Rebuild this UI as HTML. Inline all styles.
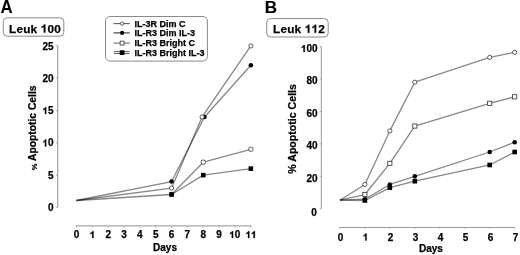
<!DOCTYPE html>
<html><head><meta charset="utf-8"><title>Apoptosis chart</title><style>
html,body{margin:0;padding:0;background:#fff;width:520px;height:255px;overflow:hidden}svg{display:block;filter:grayscale(1)}text{font-family:"Liberation Sans",sans-serif;font-weight:bold;fill:#000;stroke:#000;stroke-width:0.25px}
</style></head><body>
<svg width="520" height="255" viewBox="0 0 520 255">
<path d="M57.7 45.5V207.5" stroke="#a8a8a8" stroke-width="1.3" fill="none"/>
<path d="M56 45.9H57.5" stroke="#999" stroke-width="0.8"/>
<text x="53.5" y="49.5" text-anchor="end" style="font-size:10px">25</text>
<path d="M56 78.2H57.5" stroke="#999" stroke-width="0.8"/>
<text x="53.5" y="82.4" text-anchor="end" style="font-size:10px">20</text>
<path d="M56 110.5H57.5" stroke="#999" stroke-width="0.8"/>
<text id="t1" x="53.5" y="114.1" text-anchor="end" style="font-size:10px">&#x2007;5</text>
<path d="M56 142.8H57.5" stroke="#999" stroke-width="0.8"/>
<text id="t2" x="53.5" y="146.4" text-anchor="end" style="font-size:10px">&#x2007;0</text>
<path d="M56 175.1H57.5" stroke="#999" stroke-width="0.8"/>
<text x="53.5" y="178.7" text-anchor="end" style="font-size:10px">5</text>
<path d="M56 207.4H57.5" stroke="#999" stroke-width="0.8"/>
<text x="53.5" y="211" text-anchor="end" style="font-size:10px">0</text>
<path d="M75.9 225.9H251.6" stroke="#a8a8a8" stroke-width="1.4" fill="none"/>
<path d="M76.4 226.2V227.6" stroke="#999" stroke-width="0.8"/>
<text x="76.6" y="238.1" text-anchor="middle" style="font-size:10px">0</text>
<path d="M92.26 226.2V227.6" stroke="#999" stroke-width="0.8"/>
<text id="t3" x="92.42" y="238.1" text-anchor="middle" style="font-size:10px">&#x2007;</text>
<path d="M108.12 226.2V227.6" stroke="#999" stroke-width="0.8"/>
<text x="108.24" y="238.1" text-anchor="middle" style="font-size:10px">2</text>
<path d="M123.98 226.2V227.6" stroke="#999" stroke-width="0.8"/>
<text x="124.06" y="238.1" text-anchor="middle" style="font-size:10px">3</text>
<path d="M139.84 226.2V227.6" stroke="#999" stroke-width="0.8"/>
<text x="139.88" y="238.1" text-anchor="middle" style="font-size:10px">4</text>
<path d="M155.7 226.2V227.6" stroke="#999" stroke-width="0.8"/>
<text x="155.7" y="238.1" text-anchor="middle" style="font-size:10px">5</text>
<path d="M171.56 226.2V227.6" stroke="#999" stroke-width="0.8"/>
<text x="171.52" y="238.1" text-anchor="middle" style="font-size:10px">6</text>
<path d="M187.42 226.2V227.6" stroke="#999" stroke-width="0.8"/>
<text x="187.34" y="238.1" text-anchor="middle" style="font-size:10px">7</text>
<path d="M203.28 226.2V227.6" stroke="#999" stroke-width="0.8"/>
<text x="203.16" y="238.1" text-anchor="middle" style="font-size:10px">8</text>
<path d="M219.14 226.2V227.6" stroke="#999" stroke-width="0.8"/>
<text x="218.98" y="238.1" text-anchor="middle" style="font-size:10px">9</text>
<path d="M235 226.2V227.6" stroke="#999" stroke-width="0.8"/>
<text id="t4" x="234.8" y="238.1" text-anchor="middle" style="font-size:10px">&#x2007;0</text>
<path d="M250.86 226.2V227.6" stroke="#999" stroke-width="0.8"/>
<text id="t5" x="251.02" y="238.1" text-anchor="middle" style="font-size:10px">&#x2007;&#x2007;</text>
<text x="165" y="251.4" text-anchor="middle" style="font-size:10px">Days</text>
<text transform="translate(36.3 161) rotate(-90)" style="font-size:10.3px">Apoptotic Cells</text>
<text transform="translate(36.6 170.3) rotate(-90)" style="font-size:7.6px">%</text>
<path d="M321.3 46.3V208.7" stroke="#999" stroke-width="1" fill="none"/>
<path d="M319.8 46.5H321.3" stroke="#999" stroke-width="0.8"/>
<text id="t6" x="317.6" y="51.9" text-anchor="end" style="font-size:10px">&#x2007;00</text>
<path d="M319.8 78.96H321.3" stroke="#999" stroke-width="0.8"/>
<text x="317.6" y="84.4" text-anchor="end" style="font-size:10px">80</text>
<path d="M319.8 111.42H321.3" stroke="#999" stroke-width="0.8"/>
<text x="317.6" y="116.9" text-anchor="end" style="font-size:10px">60</text>
<path d="M319.8 143.88H321.3" stroke="#999" stroke-width="0.8"/>
<text x="317.6" y="149.3" text-anchor="end" style="font-size:10px">40</text>
<path d="M319.8 176.34H321.3" stroke="#999" stroke-width="0.8"/>
<text x="317.6" y="181.9" text-anchor="end" style="font-size:10px">20</text>
<path d="M319.8 208.8H321.3" stroke="#999" stroke-width="0.8"/>
<text x="316.9" y="216" text-anchor="end" style="font-size:10px">0</text>
<path d="M339.2 227.45H514.6" stroke="#999" stroke-width="1" fill="none"/>
<path d="M339.9 227.5V228.8" stroke="#999" stroke-width="0.8"/>
<text x="340.5" y="240.5" text-anchor="middle" style="font-size:10px">0</text>
<path d="M364.87 227.5V228.8" stroke="#999" stroke-width="0.8"/>
<text id="t7" x="365.5" y="240.5" text-anchor="middle" style="font-size:10px">&#x2007;</text>
<path d="M389.84 227.5V228.8" stroke="#999" stroke-width="0.8"/>
<text x="390.5" y="240.5" text-anchor="middle" style="font-size:10px">2</text>
<path d="M414.81 227.5V228.8" stroke="#999" stroke-width="0.8"/>
<text x="415.5" y="240.5" text-anchor="middle" style="font-size:10px">3</text>
<path d="M439.78 227.5V228.8" stroke="#999" stroke-width="0.8"/>
<text x="440.5" y="240.5" text-anchor="middle" style="font-size:10px">4</text>
<path d="M464.75 227.5V228.8" stroke="#999" stroke-width="0.8"/>
<text x="465.5" y="240.5" text-anchor="middle" style="font-size:10px">5</text>
<path d="M489.72 227.5V228.8" stroke="#999" stroke-width="0.8"/>
<text x="490.5" y="240.5" text-anchor="middle" style="font-size:10px">6</text>
<path d="M514.69 227.5V228.8" stroke="#999" stroke-width="0.8"/>
<text x="515.5" y="240.5" text-anchor="middle" style="font-size:10px">7</text>
<text x="430.9" y="252.4" text-anchor="middle" style="font-size:10px">Days</text>
<text transform="translate(295.5 128.9) rotate(-90)" text-anchor="middle" style="font-size:10.6px">% Apoptotic Cells</text>
<text transform="translate(0.5 12.65) scale(0.92 1)" style="font-size:18.3px;stroke:none">A</text>
<text x="264.85" y="12.6" style="font-size:17px;stroke:#000;stroke-width:0.15px">B</text>
<rect x="3.3" y="17.8" width="60.5" height="18.4" rx="4" fill="#fff" stroke="#8a8a8a" stroke-width="1"/>
<text id="t8" x="9" y="32.5" style="font-size:11.8px;letter-spacing:0.2px">Leuk &#x2007;00</text>
<rect x="266.7" y="18.6" width="61.5" height="18.4" rx="4" fill="#fff" stroke="#8a8a8a" stroke-width="1"/>
<text id="t9" x="273" y="32.8" style="font-size:11.8px;letter-spacing:0.2px">Leuk &#x2007;&#x2007;2</text>
<rect x="105.5" y="16.5" width="101.9" height="44.6" rx="4.5" fill="#fff" stroke="#8a8a8a" stroke-width="1"/>
<path d="M113.5 23.65H129.8" stroke="#505050" stroke-width="1"/>
<circle cx="122.1" cy="23.65" r="1.65" fill="#fff" stroke="#333" stroke-width="0.8"/>
<text x="134.5" y="26.7" style="font-size:9px">IL-3R Dim C</text>
<path d="M113.5 32.9H129.8" stroke="#202020" stroke-width="1"/>
<circle cx="122.1" cy="32.9" r="2.05" fill="#000"/>
<text x="134.5" y="36.1" style="font-size:9px">IL-R3 Dim IL-3</text>
<path d="M113.5 43.1H129.8" stroke="#606060" stroke-width="1"/>
<rect x="120.15" y="41.15" width="3.9" height="3.9" fill="#fff" stroke="#333" stroke-width="0.8"/>
<text x="134.5" y="46.2" style="font-size:9px">IL-R3 Bright C</text>
<path d="M114 51.65H129.5M114 53.55H129.5" stroke="#333" stroke-width="0.8"/>
<rect x="119.75" y="50.25" width="4.7" height="4.7" fill="#000"/>
<text x="134.5" y="56.2" style="font-size:9px">IL-R3 Bright IL-3</text>
<path d="M76.4 200.49 L171.56 194.48 L203.28 162.18 L250.86 149.26" stroke="#000" stroke-opacity="0.47" stroke-width="1.3" fill="none" stroke-linejoin="round"/>
<path d="M171.56 194.48 L203.28 175.1 L250.86 168.64" stroke="#000" stroke-opacity="0.47" stroke-width="1.3" fill="none" stroke-linejoin="round"/>
<path d="M76.4 200.49 L171.56 181.56 L204.47 116.96 L250.86 65.28" stroke="#000" stroke-opacity="0.47" stroke-width="1.3" fill="none" stroke-linejoin="round"/>
<path d="M76.4 200.49 L171.56 188.02 L202.09 116.96 L250.86 45.9" stroke="#000" stroke-opacity="0.47" stroke-width="1.3" fill="none" stroke-linejoin="round"/>
<rect x="169.46" y="192.38" width="4.2" height="4.2" rx="1.5" fill="#fff" stroke="#333" stroke-width="0.8"/>
<rect x="201.18" y="160.08" width="4.2" height="4.2" rx="1.5" fill="#fff" stroke="#333" stroke-width="0.8"/>
<rect x="248.76" y="147.16" width="4.2" height="4.2" rx="1.5" fill="#fff" stroke="#333" stroke-width="0.8"/>
<rect x="169.26" y="192.18" width="4.6" height="4.6" fill="#000"/>
<rect x="200.98" y="172.8" width="4.6" height="4.6" fill="#000"/>
<rect x="248.56" y="166.34" width="4.6" height="4.6" fill="#000"/>
<circle cx="171.56" cy="181.56" r="2.3" fill="#000"/>
<circle cx="204.47" cy="116.96" r="2.3" fill="#000"/>
<circle cx="250.86" cy="65.28" r="2.3" fill="#000"/>
<circle cx="171.56" cy="188.02" r="2.1" fill="#fff" stroke="#333" stroke-width="0.8"/>
<circle cx="202.09" cy="116.96" r="2.1" fill="#fff" stroke="#333" stroke-width="0.8"/>
<circle cx="250.86" cy="45.9" r="2.1" fill="#fff" stroke="#333" stroke-width="0.8"/>
<path d="M339.9 200.2 L364.87 194.52 L389.84 163.36 L414.81 126.03 L489.72 103.31 L514.69 96.81" stroke="#000" stroke-opacity="0.47" stroke-width="1.3" fill="none" stroke-linejoin="round"/>
<path d="M339.9 200.2 L364.87 200.52 L389.84 187.7 L414.81 181.21 L489.72 164.98 L514.69 152" stroke="#000" stroke-opacity="0.47" stroke-width="1.3" fill="none" stroke-linejoin="round"/>
<path d="M339.9 200.2 L364.87 199.22 L389.84 184.46 L414.81 176.34 L489.72 152 L514.69 142.26" stroke="#000" stroke-opacity="0.47" stroke-width="1.3" fill="none" stroke-linejoin="round"/>
<path d="M339.9 200.2 L364.87 184.46 L389.84 130.9 L414.81 82.21 L489.72 57.37 L514.69 52.34" stroke="#000" stroke-opacity="0.47" stroke-width="1.3" fill="none" stroke-linejoin="round"/>
<rect x="362.77" y="192.42" width="4.2" height="4.2" fill="#fff" stroke="#333" stroke-width="0.8"/>
<rect x="387.74" y="161.26" width="4.2" height="4.2" fill="#fff" stroke="#333" stroke-width="0.8"/>
<rect x="412.71" y="123.93" width="4.2" height="4.2" fill="#fff" stroke="#333" stroke-width="0.8"/>
<rect x="487.62" y="101.21" width="4.2" height="4.2" fill="#fff" stroke="#333" stroke-width="0.8"/>
<rect x="512.59" y="94.71" width="4.2" height="4.2" fill="#fff" stroke="#333" stroke-width="0.8"/>
<rect x="362.57" y="198.22" width="4.6" height="4.6" fill="#000"/>
<rect x="387.54" y="185.4" width="4.6" height="4.6" fill="#000"/>
<rect x="412.51" y="178.91" width="4.6" height="4.6" fill="#000"/>
<rect x="487.42" y="162.68" width="4.6" height="4.6" fill="#000"/>
<rect x="512.39" y="149.69" width="4.6" height="4.6" fill="#000"/>
<circle cx="364.87" cy="199.22" r="2.3" fill="#000"/>
<circle cx="389.84" cy="184.46" r="2.3" fill="#000"/>
<circle cx="414.81" cy="176.34" r="2.3" fill="#000"/>
<circle cx="489.72" cy="152" r="2.3" fill="#000"/>
<circle cx="514.69" cy="142.26" r="2.3" fill="#000"/>
<circle cx="364.87" cy="184.46" r="2.1" fill="#fff" stroke="#333" stroke-width="0.8"/>
<circle cx="389.84" cy="130.9" r="2.1" fill="#fff" stroke="#333" stroke-width="0.8"/>
<circle cx="414.81" cy="82.21" r="2.1" fill="#fff" stroke="#333" stroke-width="0.8"/>
<circle cx="489.72" cy="57.37" r="2.1" fill="#fff" stroke="#333" stroke-width="0.8"/>
<circle cx="514.69" cy="52.34" r="2.1" fill="#fff" stroke="#333" stroke-width="0.8"/>
<path transform="translate(42.38 114.1) scale(0.004883 -0.004883)" d="M798 0L517 0L517 1012Q363 868 154 798L154 1043Q264 1079 392 1178Q520 1277 567 1409L798 1409Z" fill="#000" stroke="#000" stroke-width="51.2"/>
<path transform="translate(42.38 146.4) scale(0.004883 -0.004883)" d="M798 0L517 0L517 1012Q363 868 154 798L154 1043Q264 1079 392 1178Q520 1277 567 1409L798 1409Z" fill="#000" stroke="#000" stroke-width="51.2"/>
<path transform="translate(89.64 238.1) scale(0.004883 -0.004883)" d="M798 0L517 0L517 1012Q363 868 154 798L154 1043Q264 1079 392 1178Q520 1277 567 1409L798 1409Z" fill="#000" stroke="#000" stroke-width="51.2"/>
<path transform="translate(229.24 238.1) scale(0.004883 -0.004883)" d="M798 0L517 0L517 1012Q363 868 154 798L154 1043Q264 1079 392 1178Q520 1277 567 1409L798 1409Z" fill="#000" stroke="#000" stroke-width="51.2"/>
<path transform="translate(245.46 238.1) scale(0.004883 -0.004883)" d="M798 0L517 0L517 1012Q363 868 154 798L154 1043Q264 1079 392 1178Q520 1277 567 1409L798 1409Z" fill="#000" stroke="#000" stroke-width="51.2"/>
<path transform="translate(251 238.1) scale(0.004883 -0.004883)" d="M798 0L517 0L517 1012Q363 868 154 798L154 1043Q264 1079 392 1178Q520 1277 567 1409L798 1409Z" fill="#000" stroke="#000" stroke-width="51.2"/>
<path transform="translate(300.91 51.9) scale(0.004883 -0.004883)" d="M798 0L517 0L517 1012Q363 868 154 798L154 1043Q264 1079 392 1178Q520 1277 567 1409L798 1409Z" fill="#000" stroke="#000" stroke-width="51.2"/>
<path transform="translate(362.72 240.5) scale(0.004883 -0.004883)" d="M798 0L517 0L517 1012Q363 868 154 798L154 1043Q264 1079 392 1178Q520 1277 567 1409L798 1409Z" fill="#000" stroke="#000" stroke-width="51.2"/>
<path transform="translate(40.8 32.5) scale(0.005762 -0.005762)" d="M798 0L517 0L517 1012Q363 868 154 798L154 1043Q264 1079 392 1178Q520 1277 567 1409L798 1409Z" fill="#000" stroke="#000" stroke-width="43.4"/>
<path transform="translate(304.8 32.8) scale(0.005762 -0.005762)" d="M798 0L517 0L517 1012Q363 868 154 798L154 1043Q264 1079 392 1178Q520 1277 567 1409L798 1409Z" fill="#000" stroke="#000" stroke-width="43.4"/>
<path transform="translate(311.56 32.8) scale(0.005762 -0.005762)" d="M798 0L517 0L517 1012Q363 868 154 798L154 1043Q264 1079 392 1178Q520 1277 567 1409L798 1409Z" fill="#000" stroke="#000" stroke-width="43.4"/>
</svg>
</body></html>
